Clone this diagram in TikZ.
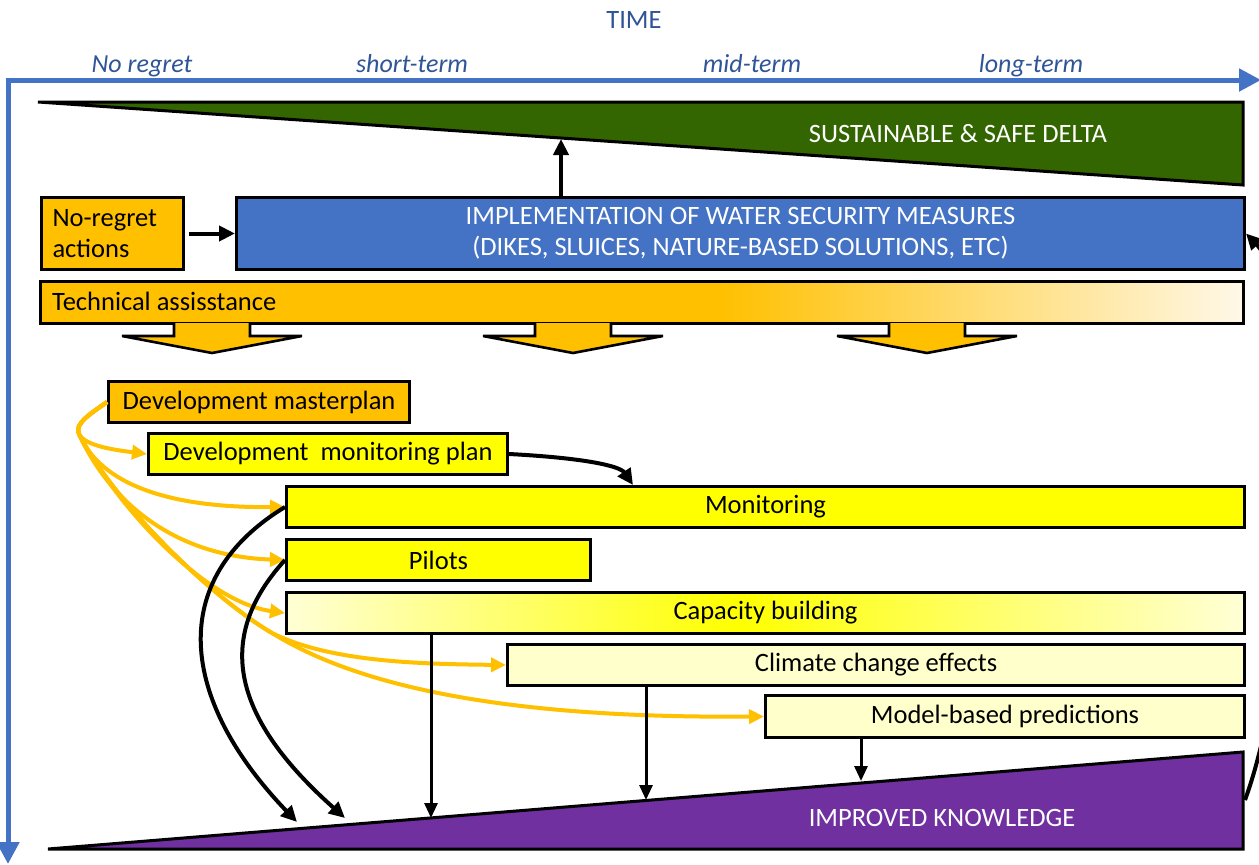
\documentclass[tikz,border=0pt]{standalone}
\usepackage{fontspec}
\setmainfont{Carlito}
\usetikzlibrary{arrows.meta}
\definecolor{axisblue}{RGB}{68,114,196}
\definecolor{labelblue}{RGB}{47,85,151}
\definecolor{darkgreen}{RGB}{51,102,0}
\definecolor{gold}{RGB}{255,192,0}
\definecolor{yel}{RGB}{255,255,0}
\definecolor{paleyel}{RGB}{255,255,204}
\definecolor{purp}{RGB}{112,48,160}
\definecolor{cream}{RGB}{255,248,232}
\begin{document}
\begin{tikzpicture}[x=1pt,y=-1pt,
  txt/.style={font=\fontsize{26.5}{31}\selectfont},
  box/.style={txt, draw=black, line width=3pt, inner sep=0pt, anchor=north west},
  lbl/.style={font=\fontsize{26}{30}\selectfont\itshape, text=labelblue, anchor=base},
  axis/.style={draw=axisblue, line width=5pt, -{Triangle[length=22pt,width=22pt]}},
  blk/.style={draw=black, line width=4pt, -{Triangle[length=16pt,width=15pt]}},
  thinblk/.style={draw=black, line width=3pt, -{Triangle[length=15pt,width=13pt]}},
  org/.style={draw=gold, line width=4pt, -{Triangle[length=15pt,width=14pt]}},
  blockarrow/.style={draw=black, line width=2.6pt, fill=gold, line join=miter}]
\useasboundingbox (0,0) rectangle (1259,865);
\fill[white] (0,0) rectangle (1259,865);

% time axis
\node[txt, text=labelblue, anchor=base] (time) at (634,28) {TIME};
\node[lbl] (l1) at (142,72) {No regret};
\node[lbl] (l2) at (412,72) {short-term};
\node[lbl] (l3) at (752,72) {mid-term};
\node[lbl] (l4) at (1031,72) {long-term};
\coordinate (origin) at (8,80);
\coordinate (xend) at (1261,80);
\coordinate (yend) at (8,864);
\draw[axis] (5.5,80) -- (xend);
\draw[axis] (origin) -- (yend);

% green triangle
\draw[line width=3pt, fill=darkgreen, line join=miter] (38,102) -- (1243,102) -- (1243,185) -- cycle;
\node[txt, text=white] (delta) at (958,134) {SUSTAINABLE \& SAFE DELTA};
\coordinate (deltabottom) at (561,139);

% no-regret and implementation
\node[box, fill=gold, minimum width=142pt, minimum height=72pt, text width=120pt, align=left] (noregret) at (40,196) {No-regret\\actions};
\node[box, fill=axisblue, text=white, minimum width=1008pt, minimum height=72pt, align=center] (impl) at (235,196) {IMPLEMENTATION OF WATER SECURITY MEASURES\\(DIKES, SLUICES, NATURE-BASED SOLUTIONS, ETC)};
\draw[blk] (noregret.east) ++(4,0) -- (impl.west);
\draw[blk] (impl.north -| deltabottom) -- (deltabottom);

% technical assistance bar
\fill[gold] (40,281) rectangle (720,323);
\shade[left color=gold, right color=cream] (719,281) rectangle (1243,323);
\draw[line width=3pt] (40,281) rectangle (1243,323);
\node[txt, anchor=west, inner sep=0pt] (tech) at (52,301) {Technical assisstance};

% block arrows
\foreach \c/\n in {212/ba1, 573/ba2, 927/ba3}{
  \draw[blockarrow] (\c-38,323) -- (\c-38,336) -- (\c-90,336) -- (\c,353) -- (\c+90,336) -- (\c+38,336) -- (\c+38,323);
}

% boxes
\node[box, fill=gold, minimum width=301pt, minimum height=41pt] (master) at (107,380) {Development masterplan};
\node[box, fill=yel, minimum width=359pt, minimum height=41pt] (devmon) at (147,432) {Development\ \ monitoring plan};
\node[box, fill=yel, minimum width=958pt, minimum height=41pt] (mon) at (285,485) {Monitoring};
\node[box, fill=yel, minimum width=304pt, minimum height=41pt] (pilots) at (285,538) {Pilots};
\shade[left color=paleyel!80!white, right color=yel] (285,591) rectangle (740,632);
\shade[left color=yel, right color=paleyel!80!white] (739,591) rectangle (1243,632);
\node[box, minimum width=958pt, minimum height=41pt] (cap) at (285,591) {Capacity building};
\node[box, fill=paleyel, minimum width=737pt, minimum height=41pt] (clim) at (506,643) {Climate change effects};
\node[box, fill=paleyel, minimum width=479pt, minimum height=42pt] (model) at (764,694) {Model-based predictions};

% purple triangle
\draw[line width=3pt, fill=purp, line join=miter] (48,849) -- (1243,752) -- (1243,849) -- cycle;
\node[txt, text=white] (know) at (942,818) {IMPROVED KNOWLEDGE};
\coordinate (k1) at (297,822);
\coordinate (k2) at (345,818);
\coordinate (k3) at (431,818);
\coordinate (k4) at (646,800);
\coordinate (k5) at (861,781);
\coordinate (kright) at (1245,800);
\coordinate (ob) at (79,434);

% orange connectors
\draw[org] (master.west) .. controls (90,414) and (74,424) .. (ob) .. controls (85,446) and (115,450) .. (devmon.west);
\draw[org] (master.west) .. controls (90,414) and (74,424) .. (ob) .. controls (98,478) and (155,508) .. (mon.west);
\draw[org] (master.west) .. controls (90,414) and (74,424) .. (ob) .. controls (105,492) and (165,556) .. (pilots.west);
\draw[org] (master.west) .. controls (90,414) and (74,424) .. (ob) .. controls (115,505) and (205,602) .. (cap.west);
\draw[org] (master.west) .. controls (90,414) and (74,424) .. (ob) .. controls (115,505) and (215,600) .. (272,633) .. controls (330,662) and (420,664) .. (clim.west);
\draw[org] (master.west) .. controls (90,414) and (74,424) .. (ob) .. controls (115,505) and (215,600) .. (272,633) .. controls (380,700) and (560,718) .. (model.west);

% black connectors
\draw[blk] (devmon.east) .. controls (585,458) and (620,466) .. (mon.north -| 633,0);
\draw[blk] (mon.west) .. controls (165,580) and (180,700) .. (k1);
\draw[blk] (pilots.west) .. controls (212,640) and (235,720) .. (k2);
\draw[thinblk] (cap.south -| k3) -- (k3);
\draw[thinblk] (clim.south -| k4) -- (k4);
\draw[thinblk] (model.south -| k5) -- (k5);
\draw[blk] (kright) .. controls (1300,650) and (1310,300) .. (impl.east);
\end{tikzpicture}
\end{document}
